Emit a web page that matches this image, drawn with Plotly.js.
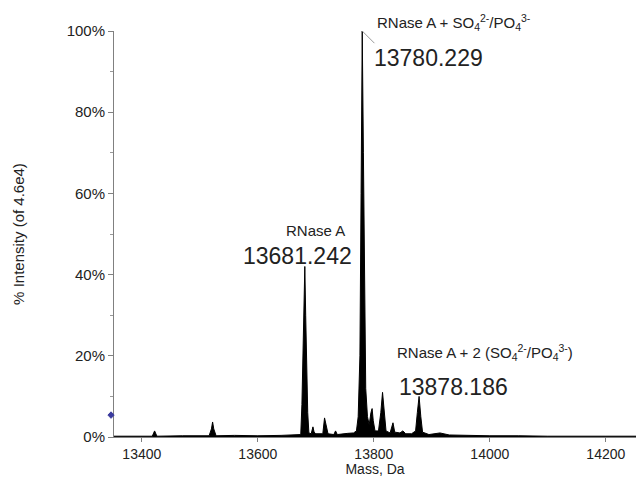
<!DOCTYPE html>
<html>
<head>
<meta charset="utf-8">
<script src="https://cdn.plot.ly/plotly-3.0.1.min.js"></script>
<style>html,body{margin:0;padding:0;background:#fff;}#chart{width:636px;height:477px;}</style>
</head>
<body>
<div id="chart"></div>
<script>
// Spectrum: mass (Da) and % intensity
var massDa = [13352, 13390, 13418, 13422, 13426, 13470, 13516, 13520, 13522, 13524, 13528,
  13560, 13600, 13640, 13670, 13674, 13676, 13678, 13679.5, 13681, 13682.5, 13684, 13686, 13688,
  13692, 13695, 13697, 13700, 13712, 13715, 13718, 13721, 13731, 13734, 13737,
  13745, 13755, 13765, 13770, 13773, 13776, 13778, 13780, 13782, 13784, 13786, 13789,
  13792, 13795, 13797, 13799, 13802, 13808, 13812, 13815, 13818, 13821,
  13828, 13831, 13833, 13836, 13845, 13850, 13855, 13865,
  13872, 13875, 13878, 13881, 13884, 13895, 13914, 13930, 13960, 14000, 14050, 14100, 14200, 14252];
var intensityPct = [0.2, 0.2, 0.2, 1.5, 0.2, 0.3, 0.3, 2.0, 3.7, 2.0, 0.3,
  0.4, 0.3, 0.4, 0.5, 0.6, 8, 22, 35, 42, 30, 18, 6, 1,
  0.8, 2.5, 1.2, 0.8, 0.8, 4.7, 2.5, 0.8, 0.6, 1.5, 0.6,
  0.8, 0.9, 1.0, 1.5, 5, 20, 60, 100, 70, 35, 12, 5,
  3, 6, 7, 4, 1.5, 1.5, 6, 11, 5, 1.5,
  1.0, 2.5, 3.5, 1.2, 1.0, 1.5, 0.8, 0.8,
  1.5, 6, 10, 5, 1.2, 0.6, 1.0, 0.5, 0.4, 0.3, 0.3, 0.2, 0.2, 0.2];

// threshold marker on the intensity axis (% intensity)
var thresholdPct = 5.4;

var yTickVals = [0, 20, 40, 60, 80, 100];
var yTickText = ['0%', '20%', '40%', '60%', '80%', '100%'];
var xTickVals = [13400, 13600, 13800, 14000, 14200];
var xTickText = ['13400', '13600', '13800', '14000', '14200'];

var FONT = 'Liberation Sans, Arial, sans-serif';

var traces = [
  {x: massDa, y: intensityPct, type: 'scatter', mode: 'lines', fill: 'tozeroy',
   fillcolor: '#000', line: {color: '#000', width: 1}, hoverinfo: 'x+y', showlegend: false}
];

// diamond marker just left of the y axis (paper x, data y)
var dx = 0.006, dy = 0.8;
var diamondPath = 'M ' + (-0.0057 - dx) + ' ' + thresholdPct +
  ' L -0.0057 ' + (thresholdPct + dy) +
  ' L ' + (-0.0057 + dx) + ' ' + thresholdPct +
  ' L -0.0057 ' + (thresholdPct - dy) + ' Z';

var layout = {
  width: 636, height: 477,
  margin: {l: 114, r: 0, t: 31, b: 40},
  paper_bgcolor: '#fff', plot_bgcolor: '#fff',
  font: {family: FONT, color: '#222', size: 14},
  showlegend: false,
  xaxis: {
    range: [13352, 14252], showgrid: false, zeroline: false,
    showline: true, linecolor: '#808080', linewidth: 1,
    ticks: 'outside', ticklen: 4, tickcolor: '#808080',
    tickvals: xTickVals, ticktext: xTickText,
    tickfont: {size: 14, color: '#222'},
    title: {text: 'Mass, Da', font: {size: 14, color: '#222'}, standoff: 3}
  },
  yaxis: {
    range: [0, 100], showgrid: false, zeroline: false,
    showline: true, linecolor: '#808080', linewidth: 1,
    ticks: 'outside', ticklen: 5, tickcolor: '#808080',
    tickvals: yTickVals, ticktext: yTickText,
    tickfont: {size: 15, color: '#222'},
    minor: {dtick: 10, ticks: 'outside', ticklen: 3, tickcolor: '#999'},
    title: {text: '% Intensity (of 4.6e4)', font: {size: 15, color: '#222'}, standoff: 38}
  },
  shapes: [
    {type: 'line', xref: 'x', yref: 'y', x0: 13780, y0: 100, x1: 13801, y1: 97,
     line: {color: '#999', width: 1}},
    {type: 'path', xref: 'paper', yref: 'y', path: diamondPath,
     fillcolor: '#3b3b9e', line: {color: '#3b3b9e', width: 1}, layer: 'above'}
  ],
  annotations: [
    {xref: 'x', yref: 'paper', x: 13802, y: 1.022, xanchor: 'left', yanchor: 'middle', showarrow: false,
     text: 'RNase A + SO<sub>4</sub><sup>2-</sup>/PO<sub>4</sub><sup>3-</sup>', font: {size: 15, color: '#222'}},
    {xref: 'x', yref: 'y', x: 13796.5, y: 93.3, xanchor: 'left', yanchor: 'middle', showarrow: false,
     text: '13780.229', font: {size: 23, color: '#222'}},
    {xref: 'x', yref: 'y', x: 13700, y: 50.9, xanchor: 'center', yanchor: 'middle', showarrow: false,
     text: 'RNase A', font: {size: 15, color: '#222'}},
    {xref: 'x', yref: 'y', x: 13669, y: 44.6, xanchor: 'center', yanchor: 'middle', showarrow: false,
     text: '13681.242', font: {size: 23, color: '#222'}},
    {xref: 'x', yref: 'y', x: 13836, y: 20.7, xanchor: 'left', yanchor: 'middle', showarrow: false,
     text: 'RNase A + 2 (SO<sub>4</sub><sup>2-</sup>/PO<sub>4</sub><sup>3-</sup>)', font: {size: 15, color: '#222'}},
    {xref: 'x', yref: 'y', x: 13840, y: 12.3, xanchor: 'left', yanchor: 'middle', showarrow: false,
     text: '13878.186', font: {size: 23, color: '#222'}}
  ]
};

Plotly.newPlot('chart', traces, layout, {displayModeBar: false, staticPlot: true});
</script>
</body>
</html>
